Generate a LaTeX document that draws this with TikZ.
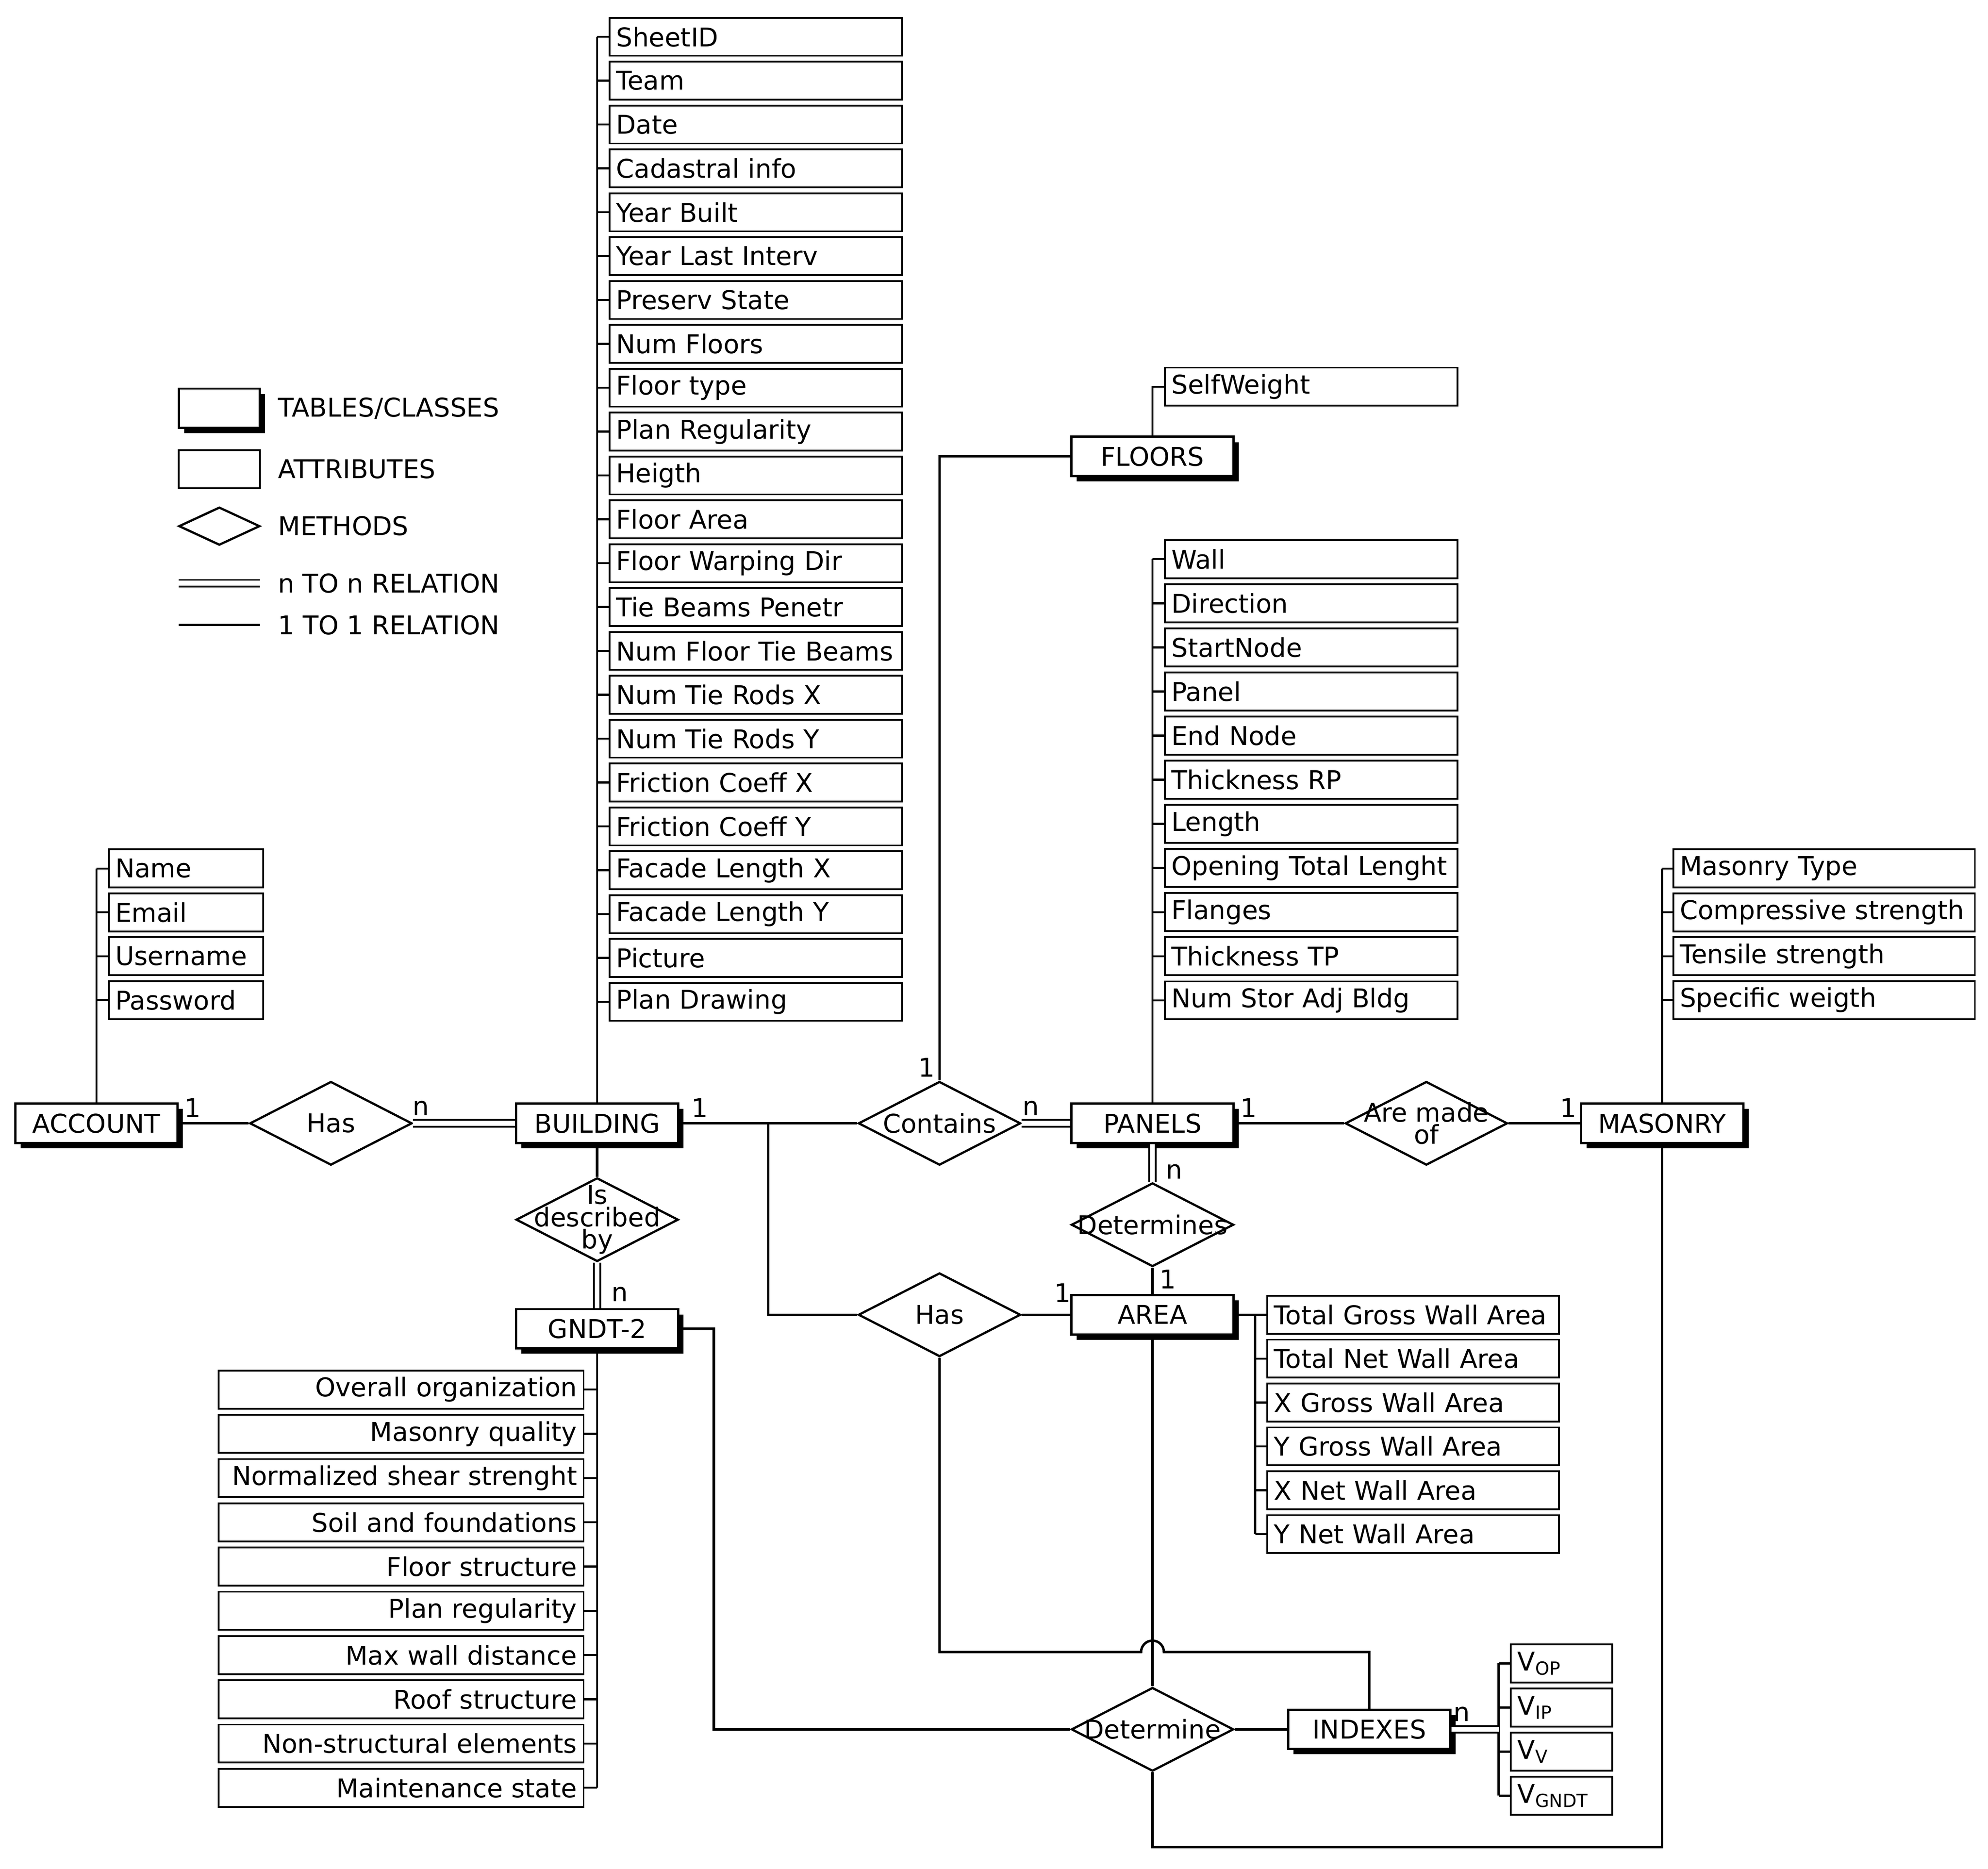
\documentclass[tikz,border=0pt]{standalone}
\usepackage{fontspec}
\setmainfont{DejaVu Sans}
\usetikzlibrary{shapes.geometric,shadows}
\begin{document}
\begin{tikzpicture}[x=0.02cm,y=-0.02cm, font=\fontsize{11.6}{12}\selectfont,
 ln/.style={line width=1.1pt},
 dbl/.style={line width=0.8pt, double, double distance=2.2pt},
 tbl/.style={draw, line width=1pt, fill=white, minimum width=2.56cm, minimum height=0.62cm, inner sep=1pt,
   general shadow={fill=black, shadow xshift=2.4pt, shadow yshift=-2.4pt}},
 attr/.style={draw, line width=0.8pt, fill=white, minimum height=0.6cm, inner xsep=3pt, inner ysep=0pt, anchor=west, align=left},
 meth/.style={draw, diamond, line width=1pt, minimum width=2.56cm, minimum height=1.32cm, inner sep=0pt},
 lbl/.style={inner sep=0pt, align=center, font=\fontsize{11.6}{10}\selectfont}]
\useasboundingbox (0,0) rectangle (1568,1474);

% legend
\node[tbl, minimum width=1.28cm] (lgT) at (173,322) {};
\node[attr, minimum width=1.28cm, anchor=center] (lgA) at (173,370) {};
\node[draw, diamond, line width=1pt, minimum width=1.28cm, minimum height=0.6cm, inner sep=0pt] (lgM) at (173,415) {};
\coordinate (lgD1) at (141,460); \coordinate (lgD2) at (205,460);
\coordinate (lgS1) at (141,493); \coordinate (lgS2) at (205,493);
\draw[dbl] (lgD1) -- (lgD2);
\draw[ln] (lgS1) -- (lgS2);
\node[anchor=west, inner sep=0pt] (tT) at (219,322) {TABLES/CLASSES};
\node[anchor=west, inner sep=0pt] (tA) at (219,370) {ATTRIBUTES};
\node[anchor=west, inner sep=0pt] (tM) at (219,415) {METHODS};
\node[anchor=west, inner sep=0pt] (tN) at (219,460) {n TO n RELATION};
\node[anchor=west, inner sep=0pt] (tO) at (219,493) {1 TO 1 RELATION};

% tables
\node[tbl] (account) at (76,886) {ACCOUNT};
\node[tbl] (building) at (471,886) {BUILDING};
\node[tbl] (gndt) at (471,1048) {GNDT-2};
\node[tbl] (floors) at (909,360) {FLOORS};
\node[tbl] (panels) at (909,886) {PANELS};
\node[tbl] (area) at (909,1037) {AREA};
\node[tbl] (masonry) at (1311,886) {MASONRY};
\node[tbl] (indexes) at (1080,1364) {INDEXES};

% methods
\node[meth] (has1) at (261,886) {}; \node[lbl] (has1t) at (has1) {Has};
\node[meth] (isdesc) at (471,962) {}; \node[lbl] (isdesct) at (isdesc) {Is\\described\\by};
\node[meth] (contains) at (741,886) {}; \node[lbl] (containst) at (contains) {Contains};
\node[meth] (aremade) at (1125,886) {}; \node[lbl] (aremadet) at (aremade) {Are made\\of};
\node[meth] (determines) at (909,966) {}; \node[lbl] (determinest) at (determines) {Determines};
\node[meth] (has2) at (741,1037) {}; \node[lbl] (has2t) at (has2) {Has};
\node[meth] (determine) at (909,1364) {}; \node[lbl] (determinet) at (determine) {Determine};

% building attributes
\coordinate (bsp) at (471,29);
\draw[line width=0.9pt] (bsp) -- (building.north);
\foreach \t [count=\i] in {SheetID,Team,Date,Cadastral info,Year Built,Year Last Interv,Preserv State,Num Floors,Floor type,Plan Regularity,Heigth,Floor Area,Floor Warping Dir,Tie Beams Penetr,Num Floor Tie Beams,Num Tie Rods X,Num Tie Rods Y,Friction Coeff X,Friction Coeff Y,Facade Length X,Facade Length Y,Picture,Plan Drawing}{
 \node[attr, text width={4.62cm-6pt}] (b\i) at (480,{29+34.6*(\i-1)}) {\t};
 \coordinate (bt\i) at (471,{29+34.6*(\i-1)});
 \draw[line width=0.9pt] (bt\i) -- (b\i.west);
}

% account attributes
\coordinate (asp) at (76,685);
\draw[line width=0.9pt] (asp) -- (account.north);
\foreach \t [count=\i] in {Name,Email,Username,Password}{
 \node[attr, text width={2.44cm-6pt}] (a\i) at (85,{685+34.6*(\i-1)}) {\t};
 \coordinate (at\i) at (76,{685+34.6*(\i-1)});
 \draw[line width=0.9pt] (at\i) -- (a\i.west);
}

% floors attribute
\node[attr, text width={4.62cm-6pt}] (f1) at (918,305) {SelfWeight};
\coordinate (fsp) at (909,305);
\draw[line width=0.9pt] (f1.west) -- (fsp) -- (floors.north);

% panels attributes
\coordinate (psp) at (909,441);
\draw[line width=0.9pt] (psp) -- (panels.north);
\foreach \t [count=\i] in {Wall,Direction,StartNode,Panel,End Node,Thickness RP,Length,Opening Total Lenght,Flanges,Thickness TP,Num Stor Adj Bldg}{
 \node[attr, text width={4.62cm-6pt}] (p\i) at (918,{441+34.8*(\i-1)}) {\t};
 \coordinate (pt\i) at (909,{441+34.8*(\i-1)});
 \draw[line width=0.9pt] (pt\i) -- (p\i.west);
}

% masonry attributes
\coordinate (msp) at (1311,685);
\draw[line width=0.9pt] (msp) -- (masonry.north);
\foreach \t [count=\i] in {Masonry Type,Compressive strength,Tensile strength,Specific weigth}{
 \node[attr, text width={4.76cm-6pt}] (m\i) at (1319,{685+34.6*(\i-1)}) {\t};
 \coordinate (mt\i) at (1311,{685+34.6*(\i-1)});
 \draw[line width=0.9pt] (mt\i) -- (m\i.west);
}

% area attributes
\coordinate (rsp) at (990,1037);
\coordinate (rspe) at (990,1210);
\draw[line width=0.9pt] (area.east) -- (rsp) -- (rspe);
\foreach \t [count=\i] in {Total Gross Wall Area,Total Net Wall Area,X Gross Wall Area,Y Gross Wall Area,X Net Wall Area,Y Net Wall Area}{
 \node[attr, text width={4.6cm-6pt}] (r\i) at (999,{1037+34.6*(\i-1)}) {\t};
 \coordinate (rt\i) at (990,{1037+34.6*(\i-1)});
 \draw[line width=0.9pt] (rt\i) -- (r\i.west);
}

% gndt attributes
\coordinate (gspe) at (471,1410);
\draw[line width=0.9pt] (gndt.south) -- (gspe);
\foreach \t [count=\i] in {Overall organization,Masonry quality,Normalized shear strenght,Soil and foundations,Floor structure,Plan regularity,Max wall distance,Roof structure,Non-structural elements,Maintenance state}{
 \node[attr, anchor=east, align=right, text width={5.76cm-6pt}] (g\i) at (461,{1096+34.9*(\i-1)}) {\t};
 \coordinate (gt\i) at (471,{1096+34.9*(\i-1)});
 \draw[line width=0.9pt] (gt\i) -- (g\i.east);
}

% indexes attributes
\coordinate (isp) at (1182,1312);
\coordinate (ispe) at (1182,1416);
\draw[line width=0.9pt] (isp) -- (ispe);
\foreach \t [count=\i] in {V\textsubscript{OP},V\textsubscript{IP},V\textsubscript{V},V\textsubscript{GNDT}}{
 \node[attr, text width={1.6cm-6pt}] (x\i) at (1191,{1312+34.8*(\i-1)}) {\t};
 \coordinate (xt\i) at (1182,{1312+34.8*(\i-1)});
 \draw[line width=0.9pt] (xt\i) -- (x\i.west);
}
\coordinate (ixm) at (1182,1364);
\draw[dbl] (indexes.east) -- (ixm);
\node[inner sep=0pt] (ixn) at (1153,1352) {n};

% relations
\draw[ln] (account.east) -- (has1.west);
\node[inner sep=0pt] (l1) at (152,874) {1};
\draw[dbl] (has1.east) -- (building.west);
\node[inner sep=0pt] (l2) at (332,874) {n};
\draw[ln] (building.east) -- (contains.west);
\node[inner sep=0pt] (l3) at (552,874) {1};
\coordinate (br1) at (606,886); \coordinate (br2) at (606,1037);
\draw[ln] (br1) -- (br2) -- (has2.west);
\coordinate (cf) at (741,360);
\draw[ln] (contains.north) -- (cf) -- (floors.west);
\node[inner sep=0pt] (l4) at (731,842) {1};
\draw[dbl] (contains.east) -- (panels.west);
\node[inner sep=0pt] (l5) at (813,874) {n};
\draw[ln] (panels.east) -- (aremade.west);
\node[inner sep=0pt] (l6) at (985,874) {1};
\draw[ln] (aremade.east) -- (masonry.west);
\node[inner sep=0pt] (l7) at (1237,874) {1};
\draw[ln] (building.south) -- (isdesc.north);
\draw[dbl] (isdesc.south) -- (gndt.north);
\node[inner sep=0pt] (l8) at (489,1021) {n};
\draw[dbl] (panels.south) -- (determines.north);
\node[inner sep=0pt] (l9) at (926,924) {n};
\draw[ln] (determines.south) -- (area.north);
\node[inner sep=0pt] (l10) at (921,1009) {1};
\draw[ln] (has2.east) -- (area.west);
\node[inner sep=0pt] (l11) at (838,1020) {1};
% has2 to indexes with hop
\coordinate (h1) at (741,1303); \coordinate (h2) at (900,1303); \coordinate (h3) at (1080,1303);
\draw[ln] (has2.south) -- (h1) -- (h2) arc[start angle=180, end angle=0, radius=0.18cm] -- (h3) -- (indexes.north);
\draw[ln] (area.south) -- (determine.north);
\coordinate (gd1) at (563,1048); \coordinate (gd2) at (563,1364);
\draw[ln] (gndt.east) -- (gd1) -- (gd2) -- (determine.west);
\draw[ln] (determine.east) -- (indexes.west);
\coordinate (dm1) at (909,1457); \coordinate (dm2) at (1311,1457);
\draw[ln] (determine.south) -- (dm1) -- (dm2) -- (masonry.south);
\end{tikzpicture}
\end{document}
